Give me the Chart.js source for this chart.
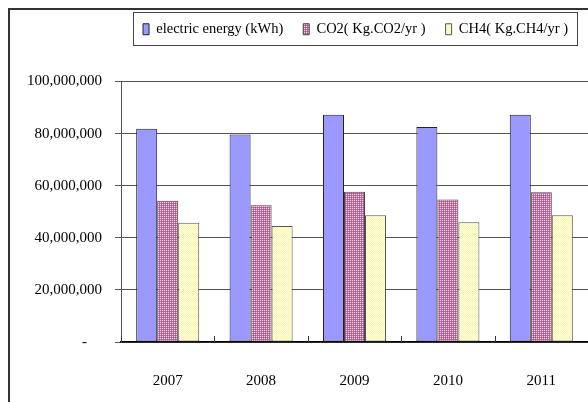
<!DOCTYPE html>
<html>
<head>
<meta charset="utf-8">
<script src="https://cdn.jsdelivr.net/npm/chart.js@4/dist/chart.umd.min.js"></script>
<style>
  html, body { margin: 0; padding: 0; background: #fff; overflow: hidden; }
  #wrap { position: relative; width: 588px; height: 402px; overflow: hidden; }
  #frame { position: absolute; left: 8px; top: 8px; width: 700px; height: 500px;
           border-left: 2px solid #333; border-top: 2px solid #333; box-sizing: border-box; }
  canvas { position: absolute; left: 0; top: 0; }
</style>
</head>
<body>
<div id="wrap">
  <div id="frame"></div>
  <canvas id="c" width="588" height="402"></canvas>
</div>
<script>
const categories = ['2007', '2008', '2009', '2010', '2011'];
const electricEnergy = [81900000, 79700000, 87200000, 82500000, 87200000];
const co2 = [54200000, 52500000, 57700000, 54700000, 57500000];
const ch4 = [45800000, 44500000, 48700000, 46000000, 48700000];
const seriesNames = ['electric energy (kWh)', 'CO2( Kg.CO2/yr )', 'CH4( Kg.CH4/yr )'];
const yTickValues = [0, 20000000, 40000000, 60000000, 80000000, 100000000];

function makePattern(cells, size) {
  const cv = document.createElement('canvas');
  cv.width = size; cv.height = size;
  const cx = cv.getContext('2d');
  for (let y = 0; y < size; y++) for (let x = 0; x < size; x++) {
    cx.fillStyle = cells[y][x];
    cx.fillRect(x, y, 1, 1);
  }
  return cx.createPattern(cv, 'repeat');
}
const co2Pattern = makePattern([['#f0cfe0', '#c0739c'], ['#c0739c', '#a8548a']], 2);
const ch4Pattern = makePattern([['#ffffd2', '#f6f6bc'], ['#f6f6bc', '#ffffd2']], 2);

const FONT = 'Liberation Serif, Times New Roman, serif';

const legendBoxPlugin = {
  id: 'legendBox',
  afterDraw(chart) {
    const hb = chart.legend && chart.legend.legendHitBoxes;
    if (!hb || !hb.length) return;
    const first = hb[0], last = hb[hb.length - 1];
    const ctx = chart.ctx;
    ctx.save();
    ctx.strokeStyle = '#444';
    ctx.lineWidth = 1;
    const l = Math.round(first.left - 10) + 0.5;
    const r = Math.round(last.left + last.width + 9) + 0.5;
    const t = Math.round(first.top - 10) + 0.5;
    const b = Math.round(first.top + first.height + 8) + 0.5;
    ctx.strokeRect(l, t, r - l, b - t);
    ctx.restore();
  }
};

const innerTicksPlugin = {
  id: 'innerTicks',
  afterDatasetsDraw(chart) {
    const xs = chart.scales.x;
    const n = xs.ticks.length;
    const w = (xs.right - xs.left) / n;
    const ctx = chart.ctx;
    ctx.save();
    ctx.strokeStyle = '#333';
    ctx.lineWidth = 1;
    ctx.beginPath();
    for (let i = 0; i <= n; i++) {
      const x = Math.round(xs.getPixelForValue(0) - w / 2 + i * w) + 0.5;
      ctx.moveTo(x, xs.top);
      ctx.lineTo(x, xs.top - 6);
    }
    ctx.stroke();
    ctx.restore();
  }
};

new Chart(document.getElementById('c'), {
  type: 'bar',
  data: {
    labels: categories,
    datasets: [
      { label: seriesNames[0], data: electricEnergy, backgroundColor: '#9999ff', borderColor: '#222', borderWidth: 1, borderSkipped: false },
      { label: seriesNames[1], data: co2, backgroundColor: co2Pattern, borderColor: '#444', borderWidth: 1, borderSkipped: false },
      { label: seriesNames[2], data: ch4, backgroundColor: ch4Pattern, borderColor: '#555', borderWidth: 1, borderSkipped: false }
    ]
  },
  options: {
    responsive: false,
    animation: false,
    devicePixelRatio: 1,
    layout: { padding: { left: 0, right: 0, top: 2, bottom: 0 } },
    datasets: { bar: { categoryPercentage: 0.675, barPercentage: 1 } },
    plugins: {
      tooltip: { enabled: false },
      legend: {
        display: true,
        position: 'top',
        align: 'end',
        labels: {
          font: { family: FONT, size: 14.5 },
          color: '#000',
          boxWidth: 6,
          boxHeight: 11,
          padding: 20
        }
      }
    },
    scales: {
      xTop: {
        type: 'category',
        labels: categories,
        position: 'top',
        display: true,
        grid: { display: false },
        border: { display: false },
        ticks: { display: false },
        afterFit(s) { s.height = 35; }
      },
      x: {
        type: 'category',
        position: 'bottom',
        grid: { display: false },
        border: { display: true, color: '#000', width: 1.5 },
        ticks: { font: { family: FONT, size: 15 }, color: '#000', padding: 22, maxRotation: 0 },
        afterFit(s) { s.height = 60; }
      },
      y: {
        min: 0,
        max: 100000000,
        afterBuildTicks(s) { s.ticks = yTickValues.map(v => ({ value: v })); },
        grid: { color: '#555', lineWidth: 1, drawTicks: true, tickLength: 6 },
        border: { display: true, color: '#555', width: 1 },
        ticks: {
          font: { family: FONT, size: 15 },
          color: '#000',
          padding: 13,
          callback: (v) => v === 0 ? '-    ' : Number(v).toLocaleString('en-US')
        },
        afterFit(s) { s.width = 121; }
      }
    }
  },
  plugins: [legendBoxPlugin, innerTicksPlugin]
});
</script>
</body>
</html>
